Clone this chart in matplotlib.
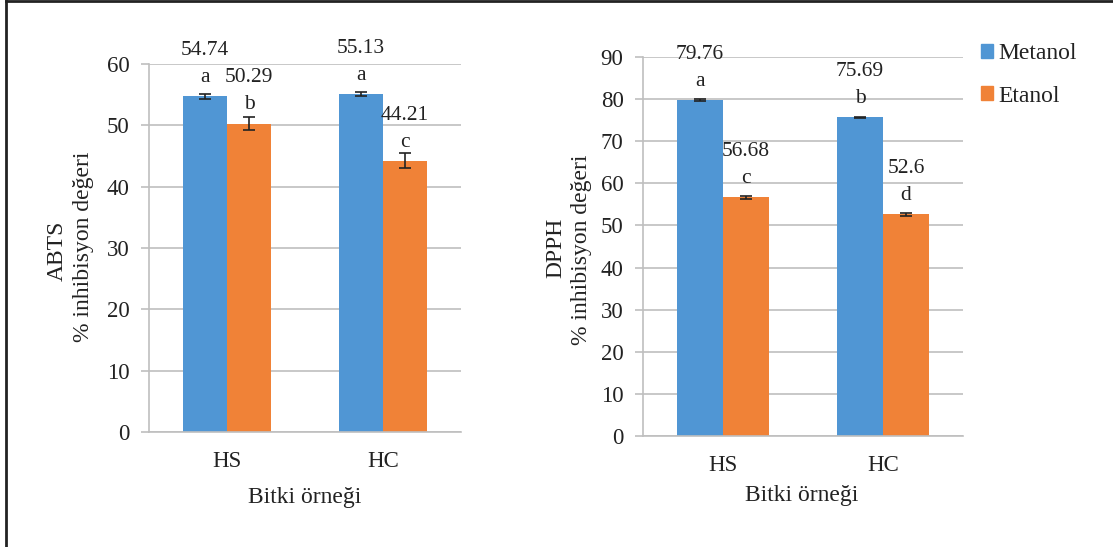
import matplotlib
matplotlib.use("Agg")
import matplotlib.pyplot as plt
from matplotlib.patches import Patch
from matplotlib.lines import Line2D
import numpy as np

plt.rcParams['font.family'] = ['Liberation Serif', 'DejaVu Serif']

categories = ["HS", "HC"]
series = ["Metanol", "Etanol"]

abts_met = [54.74, 55.13]
abts_eta = [50.29, 44.21]
abts_met_err = [0.4, 0.35]
abts_eta_err = [1.1, 1.2]
abts_met_let = ["a", "a"]
abts_eta_let = ["b", "c"]
abts_met_lab = ["54.74", "55.13"]
abts_eta_lab = ["50.29", "44.21"]

dpph_met = [79.76, 75.69]
dpph_eta = [56.68, 52.6]
dpph_met_err = [0.15, 0.15]
dpph_eta_err = [0.3, 0.25]
dpph_met_let = ["a", "b"]
dpph_eta_let = ["c", "d"]
dpph_met_lab = ["79.76", "75.69"]
dpph_eta_lab = ["56.68", "52.6"]

blue = '#5096D4'
orange = '#F08237'
grid_c = '#BFBFBF'
tc = '#222222'
W, H = 1113, 547

fig = plt.figure(figsize=(11.13, 5.47), dpi=100)


def px_axes(x0, x1, ytop, ybot):
    return fig.add_axes([x0 / W, 1 - ybot / H, (x1 - x0) / W, (ybot - ytop) / H])


def draw(ax, met, eta, met_err, eta_err, met_let, eta_let, met_lab, eta_lab, ymax, bw):
    x = np.arange(len(categories))
    ax.bar(x - bw / 2, met, bw, color=blue, zorder=2)
    ax.bar(x + bw / 2, eta, bw, color=orange, zorder=2)
    ax.errorbar(x - bw / 2, met, yerr=met_err, fmt='none', ecolor=tc,
                elinewidth=1.2, capsize=4, capthick=1.2, zorder=3)
    ax.errorbar(x + bw / 2, eta, yerr=eta_err, fmt='none', ecolor=tc,
                elinewidth=1.2, capsize=4, capthick=1.2, zorder=3)
    for xs, vals, lets, labs in [(x - bw / 2, met, met_let, met_lab),
                                 (x + bw / 2, eta, eta_let, eta_lab)]:
        for xi, v, l, lab in zip(xs, vals, lets, labs):
            ax.annotate(l, (xi, v), xytext=(0, 13.5), textcoords='offset points',
                        ha='center', va='center', fontsize=15.5, color=tc,
                        annotation_clip=False)
            ax.annotate(lab, (xi, v), xytext=(0, 33), textcoords='offset points',
                        ha='center', va='center', fontsize=15.5, color=tc,
                        annotation_clip=False)
    ax.set_xlim(-0.5, len(categories) - 0.5)
    ax.set_ylim(0, ymax)
    ax.set_yticks(np.arange(0, ymax + 1, 10))
    ax.set_xticks(x)
    ax.set_xticklabels(categories)
    ax.yaxis.grid(True, color=grid_c, lw=1.2, zorder=0)
    ax.set_axisbelow(True)
    for s in ['top', 'right']:
        ax.spines[s].set_visible(False)
    for s in ['left', 'bottom']:
        ax.spines[s].set_color(grid_c)
        ax.spines[s].set_linewidth(1.2)
    ax.tick_params(axis='y', length=6, color=grid_c, width=1.2, labelsize=16.5,
                   labelcolor=tc, pad=8)
    ax.tick_params(axis='x', length=0, labelsize=16.5, labelcolor=tc, pad=14)


ax1 = px_axes(149, 461, 64, 432)
draw(ax1, abts_met, abts_eta, abts_met_err, abts_eta_err, abts_met_let, abts_eta_let,
     abts_met_lab, abts_eta_lab, 60, 0.283)
ax2 = px_axes(643, 963, 57, 436)
draw(ax2, dpph_met, dpph_eta, dpph_met_err, dpph_eta_err, dpph_met_let, dpph_eta_let,
     dpph_met_lab, dpph_eta_lab, 90, 0.2875)

fig.text(57 / W, 1 - 251 / H, "ABTS", rotation=90, ha='center', va='center', fontsize=17, color=tc)
fig.text(83 / W, 1 - 247 / H, "% inhibisyon değeri", rotation=90, ha='center', va='center', fontsize=17, color=tc)
fig.text(556 / W, 1 - 248 / H, "DPPH", rotation=90, ha='center', va='center', fontsize=17, color=tc)
fig.text(581 / W, 1 - 250 / H, "% inhibisyon değeri", rotation=90, ha='center', va='center', fontsize=17, color=tc)
fig.text(305 / W, 1 - 497 / H, "Bitki örneği", ha='center', va='center', fontsize=17, color=tc)
fig.text(802 / W, 1 - 495 / H, "Bitki örneği", ha='center', va='center', fontsize=17, color=tc)

handles = [Patch(color=blue), Patch(color=orange)]
fig.legend(handles, series, loc='upper left', bbox_to_anchor=(960 / W, 1 - 22 / H),
           frameon=False, fontsize=17, handlelength=0.5, handleheight=0.5,
           handletextpad=0.22, labelspacing=0.9, labelcolor=tc)

# outer frame (left and top edges visible)
fig.add_artist(Line2D([6 / W, 6 / W], [0, 1 - 1 / H], color=tc, lw=2, transform=fig.transFigure))
fig.add_artist(Line2D([6 / W, 1], [1 - 1 / H, 1 - 1 / H], color=tc, lw=2, transform=fig.transFigure))

fig.savefig("out.png", dpi=100)
